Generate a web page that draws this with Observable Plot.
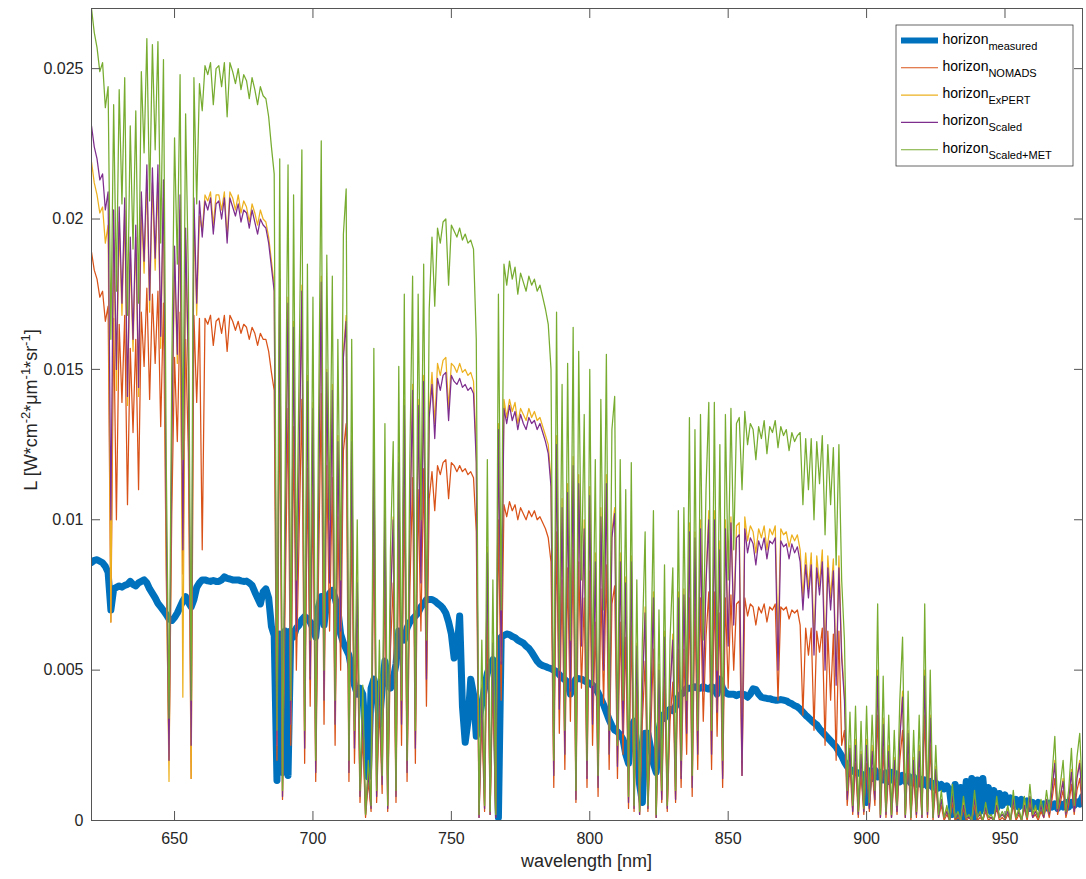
<!DOCTYPE html>
<html lang="en">
<head>
<meta charset="utf-8">
<title>Horizon radiance spectra</title>
<script src="https://cdn.jsdelivr.net/npm/d3@7"></script>
<script src="https://cdn.jsdelivr.net/npm/@observablehq/plot@0.6"></script>
<style>
  html, body { margin: 0; background: #fff; }
  #chart { width: 1086px; height: 879px; }
</style>
</head>
<body>
<div id="chart"></div>
<script>
// Wavelength grid shared by all spectra (nm, 1 nm steps)
const wavelength = d3.range(620, 979);

// Radiance L [W*cm^-2*um^-1*sr^-1], one value per wavelength, rows of 10 nm
const measured = [
  .00858,.00865,.00867,.00862,.00857,.00845,.00825,.00700,.00770,.00775, // 620
  .00780,.00776,.00782,.00785,.00795,.00785,.00780,.00790,.00795,.00800, // 630
  .00790,.00770,.00755,.00740,.00722,.00710,.00698,.00685,.00670,.00665, // 640
  .00675,.00690,.00710,.00730,.00744,.00725,.00710,.00735,.00775,.00790, // 650
  .00800,.00800,.00797,.00795,.00798,.00795,.00795,.00800,.00810,.00805, // 660
  .00803,.00800,.00800,.00800,.00797,.00795,.00796,.00790,.00782,.00760, // 670
  .00740,.00720,.00760,.00770,.00740,.00645,.00615,.00133,.00620,.00160, // 680
  .00630,.00150,.00630,.00610,.00640,.00650,.00668,.00678,.00672,.00660, // 690
  .00640,.00610,.00710,.00745,.00650,.00730,.00755,.00765,.00740,.00700, // 700
  .00620,.00590,.00570,.00550,.00500,.00450,.00420,.00440,.00420,.00280, // 710
  .00145,.00440,.00470,.00430,.00320,.00440,.00530,.00460,.00440,.00470, // 720
  .00520,.00630,.00620,.00600,.00640,.00660,.00670,.00680,.00690,.00710, // 730
  .00720,.00735,.00735,.00735,.00730,.00722,.00715,.00705,.00690,.00660, // 740
  .00620,.00540,.00560,.00680,.00380,.00260,.00330,.00470,.00420,.00280, // 750
  .00330,.00390,.00440,.00490,.00515,.00535,.00520,.00010,.00610,.00615, // 760
  .00620,.00618,.00612,.00608,.00600,.00595,.00590,.00580,.00572,.00560, // 770
  .00545,.00530,.00520,.00515,.00512,.00508,.00505,.00500,.00495,.00485, // 780
  .00475,.00468,.00460,.00420,.00455,.00470,.00472,.00470,.00465,.00460, // 790
  .00455,.00450,.00440,.00425,.00405,.00385,.00360,.00335,.00315,.00300, // 800
  .00295,.00285,.00270,.00220,.00190,.00310,.00330,.00250,.00120,.00060, // 810
  .00290,.00290,.00240,.00190,.00160,.00300,.00350,.00340,.00360,.00370, // 820
  .00365,.00380,.00410,.00420,.00425,.00440,.00440,.00440,.00445,.00440, // 830
  .00440,.00445,.00440,.00437,.00445,.00440,.00420,.00470,.00440,.00425, // 840
  .00420,.00420,.00420,.00415,.00420,.00420,.00418,.00410,.00420,.00438, // 850
  .00435,.00420,.00410,.00408,.00406,.00405,.00402,.00400,.00400,.00402, // 860
  .00400,.00398,.00392,.00388,.00382,.00378,.00370,.00360,.00350,.00342, // 870
  .00333,.00325,.00318,.00305,.00295,.00285,.00275,.00265,.00255,.00245, // 880
  .00230,.00215,.00195,.00180,.00170,.00165,.00160,.00158,.00155,.00150, // 890
  .00060,.00165,.00140,.00168,.00145,.00160,.00135,.00158,.00130,.00160, // 900
  .00135,.00155,.00128,.00150,.00130,.00148,.00125,.00145,.00120,.00140, // 910
  .00118,.00135,.00115,.00130,.00110,.00125,.00108,.00120,.00105,.00115, // 920
  .00100,.00020,.00120,.00005,.00110,.00010,.00130,.00020,.00140,.00010, // 930
  .00135,.00030,.00140,.00040,.00110,.00030,.00100,.00040,.00090,.00050, // 940
  .00085,.00060,.00075,.00050,.00070,.00045,.00070,.00050,.00065,.00040, // 950
  .00060,.00045,.00060,.00040,.00055,.00042,.00058,.00045,.00055,.00040, // 960
  .00055,.00045,.00060,.00045,.00060,.00050,.00062,.00055,.00080         // 970
];

const nomads = [
  .0189,.0183,.0180,.0174,.0176,.0166,.0171,.0066,.0167,.0100, // 620
  .0165,.0139,.0168,.0105,.0157,.0129,.0160,.0110,.0169,.0151, // 630
  .0177,.0140,.0175,.0152,.0176,.0131,.0172,.0082,.0020,.0102, // 640
  .0154,.0126,.0169,.0082,.0160,.0122,.0014,.0168,.0139,.0167, // 650
  .0090,.0167,.0165,.0168,.0158,.0166,.0167,.0162,.0168,.0156, // 660
  .0168,.0166,.0163,.0166,.0162,.0165,.0164,.0160,.0164,.0162, // 670
  .0158,.0162,.0160,.0160,.0156,.0149,.0143,.0020,.0146,.0007, // 680
  .0076,.0137,.0025,.0131,.0050,.0095,.0140,.0019,.0117,.0038, // 690
  .0110,.0013,.0082,.0142,.0032,.0118,.0063,.0114,.0025,.0101, // 700
  .0050,.0123,.0132,.0013,.0101,.0019,.0063,.0006,.0028,.0001, // 710
  .0013,.0003,.0099,.0006,.0038,.0009,.0083,.0003,.0057,.0079, // 720
  .0006,.0095,.0025,.0110,.0013,.0076,.0114,.0019,.0110,.0063, // 730
  .0117,.0038,.0107,.0116,.0103,.0118,.0115,.0119,.0120,.0107, // 740
  .0119,.0118,.0116,.0118,.0116,.0117,.0115,.0116,.0114,.0096, // 750
  .0001,.0034,.0003,.0068,.0002,.0046,.0001,.0100,.0040,.0105, // 760
  .0101,.0106,.0103,.0105,.0100,.0104,.0102,.0100,.0103,.0101, // 770
  .0103,.0100,.0101,.0099,.0097,.0094,.0086,.0011,.0096,.0029, // 780
  .0080,.0017,.0084,.0033,.0090,.0006,.0086,.0044,.0074,.0011, // 790
  .0083,.0025,.0066,.0008,.0077,.0039,.0085,.0017,.0072,.0078, // 800
  .0014,.0066,.0022,.0061,.0004,.0065,.0003,.0044,.0002,.0033, // 810
  .0053,.0003,.0028,.0057,.0001,.0039,.0006,.0047,.0003,.0033, // 820
  .0046,.0006,.0057,.0011,.0057,.0022,.0074,.0008,.0072,.0017, // 830
  .0074,.0033,.0061,.0076,.0017,.0076,.0028,.0069,.0011,.0074, // 840
  .0044,.0075,.0050,.0072,.0073,.0015,.0074,.0068,.0072,.0071, // 850
  .0065,.0071,.0069,.0072,.0066,.0071,.0070,.0072,.0040,.0071, // 860
  .0070,.0071,.0067,.0070,.0069,.0070,.0065,.0035,.0064,.0055, // 870
  .0064,.0030,.0063,.0056,.0064,.0025,.0063,.0040,.0062,.0020, // 880
  .0063,.0025,.0030,.0005,.0018,.0002,.0019,.0001,.0016,.0002, // 890
  .0019,.0003,.0017,.0005,.0035,.0001,.0024,.0001,.0017,.0001, // 900
  .0015,.0002,.0020,.0030,.0001,.0021,0,.0015,.0001,.0017,     // 910
  .0001,.0035,.0001,.0025,0,.0012,.0001,.0005,0,.0002,         // 920
  0,.0006,0,.0001,0,.0004,0,.0001,0,.0005,                     // 930
  0,.0001,0,.0003,0,.0001,0,.0004,0,.0001,                     // 940
  0,.0002,0,.0005,0,.0002,0,.0004,0,.0006,                     // 950
  .0001,.0002,0,.0003,.0001,.0005,.0001,.0007,.0014,.0002,     // 960
  .0006,.0010,.0001,.0005,.0012,.0002,.0010,.0014,.0004        // 970
];

const expert = [
  .0219,.0212,.0208,.0202,.0204,.0192,.0198,.0066,.0193,.0143, // 620
  .0199,.0168,.0203,.0138,.0189,.0156,.0194,.0141,.0204,.0182, // 630
  .0213,.0169,.0212,.0183,.0212,.0157,.0207,.0090,.0013,.0123, // 640
  .0186,.0152,.0203,.0041,.0193,.0148,.0014,.0203,.0168,.0201, // 650
  .0196,.0208,.0206,.0209,.0198,.0208,.0208,.0203,.0209,.0194, // 660
  .0209,.0207,.0203,.0208,.0202,.0206,.0204,.0199,.0205,.0202, // 670
  .0198,.0203,.0200,.0199,.0194,.0186,.0178,.0025,.0183,.0008, // 680
  .0096,.0174,.0032,.0166,.0064,.0120,.0178,.0024,.0148,.0048, // 690
  .0139,.0016,.0104,.0181,.0040,.0150,.0080,.0145,.0032,.0128, // 700
  .0064,.0156,.0168,.0016,.0128,.0024,.0080,.0008,.0036,.0002, // 710
  .0016,.0004,.0126,.0008,.0048,.0012,.0106,.0004,.0072,.0101, // 720
  .0008,.0121,.0032,.0140,.0016,.0096,.0145,.0024,.0140,.0080, // 730
  .0148,.0048,.0136,.0149,.0132,.0152,.0148,.0153,.0154,.0137, // 740
  .0152,.0151,.0149,.0152,.0149,.0150,.0148,.0149,.0146,.0123, // 750
  .0002,.0045,.0004,.0091,.0002,.0060,.0002,.0132,.0053,.0140, // 760
  .0134,.0140,.0136,.0139,.0132,.0137,.0135,.0133,.0137,.0134, // 770
  .0136,.0133,.0134,.0131,.0128,.0125,.0113,.0015,.0128,.0038, // 780
  .0107,.0022,.0112,.0044,.0121,.0007,.0115,.0059,.0100,.0015, // 790
  .0111,.0033,.0089,.0011,.0104,.0052,.0115,.0022,.0096,.0104, // 800
  .0019,.0089,.0030,.0081,.0006,.0088,.0004,.0059,.0002,.0044, // 810
  .0071,.0004,.0037,.0076,.0001,.0052,.0007,.0063,.0004,.0044, // 820
  .0062,.0007,.0076,.0015,.0077,.0030,.0099,.0011,.0096,.0022, // 830
  .0100,.0044,.0081,.0103,.0022,.0103,.0037,.0093,.0015,.0100, // 840
  .0059,.0101,.0067,.0098,.0099,.0020,.0101,.0093,.0098,.0096, // 850
  .0089,.0097,.0094,.0098,.0090,.0097,.0095,.0098,.0060,.0097, // 860
  .0095,.0096,.0091,.0095,.0093,.0095,.0090,.0074,.0089,.0077, // 870
  .0089,.0060,.0088,.0078,.0090,.0055,.0088,.0074,.0087,.0048, // 880
  .0088,.0056,.0042,.0007,.0025,.0004,.0027,.0002,.0023,.0003, // 890
  .0027,.0004,.0025,.0007,.0050,.0001,.0034,.0002,.0025,.0001, // 900
  .0021,.0004,.0028,.0043,.0001,.0030,.0001,.0021,.0002,.0025, // 910
  .0001,.0050,.0002,.0035,.0001,.0018,.0001,.0007,.0001,.0004, // 920
  0,.0008,.0001,.0002,0,.0006,.0001,.0001,0,.0007,             // 930
  .0001,.0002,0,.0004,.0001,.0001,0,.0006,.0001,.0002,         // 940
  .0001,.0004,0,.0007,.0001,.0003,0,.0006,.0001,.0008,         // 950
  .0001,.0004,.0001,.0005,.0001,.0007,.0002,.0011,.0020,.0003, // 960
  .0008,.0014,.0002,.0007,.0017,.0004,.0015,.0020,.0006        // 970
];

const scaled = [
  .0231,.0224,.0220,.0213,.0215,.0203,.0209,.0100,.0203,.0150, // 620
  .0204,.0172,.0207,.0141,.0194,.0160,.0198,.0144,.0209,.0186, // 630
  .0218,.0173,.0217,.0187,.0218,.0161,.0213,.0101,.0020,.0126, // 640
  .0191,.0155,.0208,.0090,.0197,.0151,.0025,.0207,.0172,.0206, // 650
  .0194,.0206,.0203,.0207,.0195,.0205,.0206,.0200,.0207,.0192, // 660
  .0207,.0204,.0201,.0205,.0199,.0203,.0202,.0197,.0203,.0199, // 670
  .0195,.0200,.0198,.0197,.0192,.0184,.0176,.0025,.0180,.0008, // 680
  .0095,.0172,.0032,.0164,.0063,.0119,.0176,.0024,.0146,.0047, // 690
  .0137,.0016,.0103,.0179,.0040,.0149,.0079,.0143,.0032,.0126, // 700
  .0063,.0154,.0166,.0016,.0126,.0024,.0079,.0008,.0036,.0002, // 710
  .0016,.0004,.0124,.0008,.0047,.0012,.0104,.0004,.0071,.0100, // 720
  .0008,.0119,.0032,.0138,.0016,.0095,.0143,.0024,.0138,.0079, // 730
  .0146,.0047,.0134,.0145,.0127,.0147,.0143,.0148,.0149,.0133, // 740
  .0148,.0146,.0145,.0147,.0144,.0145,.0143,.0144,.0142,.0119, // 750
  .0001,.0044,.0004,.0089,.0002,.0059,.0001,.0130,.0052,.0137, // 760
  .0132,.0138,.0133,.0136,.0130,.0135,.0132,.0130,.0134,.0132, // 770
  .0133,.0130,.0132,.0129,.0126,.0122,.0111,.0015,.0125,.0037, // 780
  .0104,.0022,.0109,.0043,.0118,.0007,.0112,.0058,.0097,.0014, // 790
  .0108,.0032,.0086,.0011,.0101,.0050,.0112,.0022,.0094,.0102, // 800
  .0018,.0086,.0029,.0079,.0006,.0086,.0004,.0058,.0002,.0043, // 810
  .0069,.0004,.0036,.0074,.0001,.0050,.0007,.0061,.0004,.0043, // 820
  .0060,.0007,.0074,.0014,.0075,.0029,.0096,.0011,.0094,.0022, // 830
  .0097,.0043,.0079,.0100,.0022,.0100,.0036,.0090,.0014,.0097, // 840
  .0058,.0099,.0065,.0094,.0095,.0015,.0097,.0089,.0094,.0092, // 850
  .0085,.0093,.0090,.0094,.0087,.0093,.0092,.0094,.0050,.0093, // 860
  .0091,.0092,.0087,.0092,.0089,.0091,.0086,.0070,.0085,.0074, // 870
  .0085,.0055,.0084,.0075,.0086,.0050,.0084,.0070,.0083,.0045, // 880
  .0084,.0054,.0040,.0007,.0024,.0003,.0025,.0002,.0022,.0003, // 890
  .0025,.0004,.0023,.0007,.0048,.0001,.0032,.0002,.0023,.0001, // 900
  .0020,.0003,.0027,.0041,.0001,.0029,.0001,.0020,.0002,.0023, // 910
  .0001,.0048,.0002,.0034,.0001,.0017,.0001,.0007,.0001,.0003, // 920
  0,.0008,.0001,.0002,0,.0005,.0001,.0001,0,.0007,             // 930
  .0001,.0002,0,.0004,.0001,.0001,0,.0005,.0001,.0002,         // 940
  .0001,.0003,0,.0007,.0001,.0003,0,.0005,.0001,.0008,         // 950
  .0001,.0003,.0001,.0005,.0001,.0007,.0002,.0010,.0019,.0003, // 960
  .0008,.0013,.0002,.0007,.0016,.0003,.0014,.0019,.0005        // 970
];

const scaledMet = [
  .0270,.0262,.0257,.0249,.0252,.0237,.0244,.0160,.0238,.0176, // 620
  .0243,.0205,.0247,.0168,.0231,.0190,.0236,.0172,.0249,.0222, // 630
  .0260,.0206,.0258,.0223,.0259,.0192,.0253,.0120,.0034,.0150, // 640
  .0227,.0185,.0248,.0120,.0235,.0180,.0040,.0247,.0205,.0245, // 650
  .0236,.0251,.0248,.0252,.0238,.0250,.0251,.0244,.0252,.0234, // 660
  .0252,.0249,.0245,.0250,.0243,.0248,.0246,.0240,.0247,.0243, // 670
  .0238,.0244,.0241,.0240,.0234,.0224,.0215,.0030,.0220,.0010, // 680
  .0120,.0218,.0040,.0208,.0080,.0150,.0223,.0030,.0185,.0060, // 690
  .0174,.0020,.0130,.0226,.0050,.0188,.0100,.0181,.0040,.0160, // 700
  .0080,.0195,.0210,.0020,.0160,.0030,.0100,.0010,.0045,.0002, // 710
  .0020,.0005,.0157,.0010,.0060,.0015,.0132,.0005,.0090,.0126, // 720
  .0010,.0151,.0040,.0175,.0020,.0120,.0181,.0030,.0175,.0100, // 730
  .0185,.0060,.0170,.0194,.0171,.0197,.0192,.0199,.0200,.0178, // 740
  .0198,.0196,.0194,.0197,.0193,.0195,.0192,.0193,.0190,.0160, // 750
  .0002,.0060,.0005,.0120,.0003,.0080,.0002,.0175,.0070,.0185, // 760
  .0178,.0186,.0180,.0184,.0175,.0182,.0179,.0176,.0181,.0178, // 770
  .0180,.0176,.0178,.0174,.0170,.0165,.0150,.0020,.0169,.0050, // 780
  .0145,.0030,.0152,.0060,.0164,.0010,.0156,.0080,.0135,.0020, // 790
  .0150,.0045,.0120,.0015,.0140,.0070,.0155,.0030,.0130,.0141, // 800
  .0025,.0120,.0040,.0110,.0008,.0119,.0005,.0080,.0003,.0060, // 810
  .0096,.0005,.0050,.0103,.0002,.0070,.0010,.0085,.0005,.0060, // 820
  .0084,.0010,.0103,.0020,.0104,.0040,.0134,.0015,.0130,.0030, // 830
  .0135,.0060,.0110,.0139,.0030,.0139,.0050,.0125,.0020,.0135, // 840
  .0080,.0137,.0090,.0132,.0134,.0110,.0136,.0125,.0132,.0130, // 850
  .0120,.0131,.0127,.0133,.0122,.0131,.0129,.0133,.0124,.0131, // 860
  .0128,.0130,.0123,.0129,.0126,.0128,.0129,.0105,.0127,.0110, // 870
  .0127,.0100,.0126,.0112,.0128,.0095,.0125,.0105,.0124,.0085, // 880
  .0125,.0080,.0060,.0010,.0036,.0005,.0038,.0003,.0033,.0004, // 890
  .0038,.0006,.0035,.0010,.0072,.0002,.0048,.0003,.0035,.0002, // 900
  .0030,.0005,.0040,.0061,.0002,.0043,.0001,.0030,.0003,.0035, // 910
  .0002,.0072,.0003,.0050,.0001,.0025,.0002,.0010,.0001,.0005, // 920
  0,.0012,.0001,.0003,0,.0008,.0001,.0002,0,.0010,             // 930
  .0001,.0003,0,.0006,.0001,.0002,0,.0008,.0001,.0003,         // 940
  .0001,.0005,0,.0010,.0001,.0004,0,.0008,.0001,.0012,         // 950
  .0002,.0005,.0001,.0007,.0002,.0010,.0003,.0015,.0028,.0004, // 960
  .0012,.0020,.0003,.0010,.0024,.0005,.0021,.0029,.0008        // 970
];

// Series, in drawing order (later ones on top)
const seriesNames = ["measured", "NOMADS", "ExPERT", "Scaled", "Scaled+MET"];
const seriesColors = ["#0072BD", "#D95319", "#EDB120", "#7E2F8E", "#77AC30"];
const seriesWidths = [7, 1.25, 1.25, 1.25, 1.25];
const seriesValues = [measured, nomads, expert, scaled, scaledMet];

// Axis ticks
const xTicks = [650, 700, 750, 800, 850, 900, 950];
const yTicks = [0, 0.005, 0.01, 0.015, 0.02, 0.025];

const rows = seriesValues.map((values, k) =>
  wavelength.map((w, i) => ({wavelength: w, radiance: values[i], series: seriesNames[k]})));

const font = "'Liberation Sans', Arial, Helvetica, sans-serif";
const axisStroke = "#555";
const textColor = "#262626";

const chart = Plot.plot({
  width: 1086,
  height: 879,
  marginTop: 8,
  marginRight: 4,
  marginBottom: 59,
  marginLeft: 91,
  style: {fontFamily: font, fontSize: "16px", color: textColor, background: "#fff"},
  x: {domain: [620, 978]},
  y: {domain: [0, 0.027]},
  marks: [
    ...rows.map((data, k) => Plot.line(data, {
      x: "wavelength",
      y: "radiance",
      stroke: seriesColors[k],
      strokeWidth: seriesWidths[k],
      strokeLinejoin: "round",
      strokeLinecap: "round",
      clip: true
    })),
    Plot.frame({stroke: axisStroke, strokeWidth: 1}),
    Plot.axisX({anchor: "bottom", ticks: xTicks, tickSize: -9, tickPadding: 21,
      stroke: axisStroke, fill: textColor, label: null}),
    Plot.axisX({anchor: "top", ticks: xTicks, tickSize: -9, tickFormat: () => "",
      stroke: axisStroke, label: null}),
    Plot.axisY({anchor: "left", ticks: yTicks, tickSize: -9, tickPadding: 17,
      tickFormat: d3.format("~g"), stroke: axisStroke, fill: textColor, label: null}),
    Plot.axisY({anchor: "right", ticks: yTicks, tickSize: -9, tickFormat: () => "",
      stroke: axisStroke, label: null})
  ]
});
document.getElementById("chart").append(chart);

// Axis titles and legend, placed from the plot's own scale ranges
const svg = d3.select(chart);
const [x0, x1] = chart.scale("x").range;
const [yBottom, yTop] = chart.scale("y").range;

svg.append("text")
  .attr("x", (x0 + x1) / 2)
  .attr("y", yBottom + 47)
  .attr("text-anchor", "middle")
  .attr("font-family", font)
  .attr("font-size", 18)
  .attr("fill", textColor)
  .text("wavelength [nm]");

const yTitle = svg.append("text")
  .attr("transform", `translate(${x0 - 54},${(yBottom + yTop) / 2 - 4}) rotate(-90)`)
  .attr("text-anchor", "middle")
  .attr("font-family", font)
  .attr("font-size", 18)
  .attr("fill", textColor);
const yTitleParts = [["L [W*cm", false], ["-2", true], ["*μm", false], ["-1", true], ["*sr", false], ["-1", true], ["]", false]];
let raised = false;
for (const [str, sup] of yTitleParts) {
  const t = yTitle.append("tspan").text(str);
  if (sup && !raised) { t.attr("dy", -7).attr("font-size", 13); raised = true; }
  else if (sup) { t.attr("font-size", 13); }
  else if (raised) { t.attr("dy", 7); raised = false; }
}

const legend = svg.append("g")
  .attr("font-family", font)
  .attr("text-anchor", "start");
const lx = x1 - 186, ly = yTop + 17;
legend.append("rect")
  .attr("x", lx).attr("y", ly)
  .attr("width", 177).attr("height", 141)
  .attr("fill", "#fff").attr("stroke", "#333").attr("stroke-width", 0.75);
seriesNames.forEach((name, i) => {
  const cy = ly + 15.5 + i * 27.3;
  legend.append("line")
    .attr("x1", lx + 5).attr("x2", lx + 42)
    .attr("y1", cy).attr("y2", cy)
    .attr("stroke", seriesColors[i])
    .attr("stroke-width", i === 0 ? 6 : 1.1);
  const t = legend.append("text")
    .attr("x", lx + 46.5).attr("y", cy + 3)
    .attr("text-anchor", "start")
    .attr("font-size", 14).attr("fill", "#000");
  t.append("tspan").text("horizon");
  t.append("tspan").attr("dy", 6).attr("font-size", 11).text(name);
});
</script>
</body>
</html>
